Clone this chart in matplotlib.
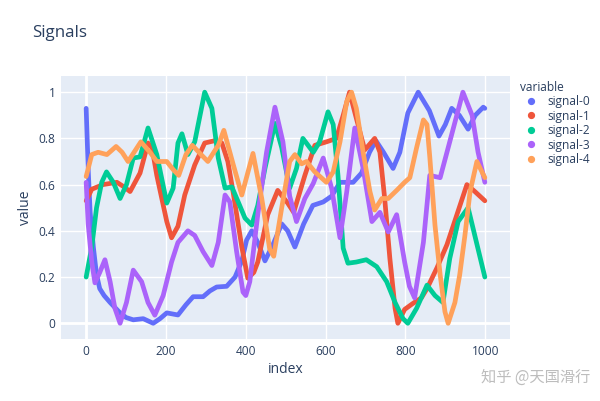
import matplotlib.pyplot as plt
from matplotlib.lines import Line2D

# values, (index, value) pairs per signal
signal_0_index = [0, 5, 10, 18, 26, 34, 45, 60, 85, 100, 118, 143, 168, 185, 202, 230, 250, 268, 293, 310,
                  327, 352, 373, 390, 402, 415, 430, 448, 468, 490, 505, 523, 545, 568, 594, 615, 636, 669,
                  690, 710, 726, 745, 769, 786, 806, 832, 860, 884, 900, 916, 935, 957, 975, 995, 999]
signal_0_value = [0.93, 0.67, 0.48, 0.33, 0.21, 0.15, 0.12, 0.09, 0.045, 0.025, 0.015, 0.02, 0.0, 0.02, 0.045,
                  0.036, 0.08, 0.115, 0.115, 0.14, 0.157, 0.16, 0.20, 0.27, 0.36, 0.40, 0.35, 0.27, 0.34, 0.43,
                  0.40, 0.33, 0.43, 0.51, 0.525, 0.55, 0.61, 0.61, 0.65, 0.74, 0.79, 0.74, 0.67, 0.74, 0.91,
                  1.0, 0.92, 0.81, 0.86, 0.93, 0.90, 0.84, 0.90, 0.935, 0.93]

signal_1_index = [0, 14, 42, 77, 95, 110, 135, 155, 165, 177, 202, 214, 230, 247, 272, 297, 322, 340, 355, 368,
                  390, 405, 420, 430, 455, 480, 505, 520, 548, 573, 602, 627, 644, 660, 675, 698, 723, 736,
                  748, 761, 774, 781, 798, 818, 840, 854, 879, 904, 929, 954, 974, 999]
signal_1_value = [0.53, 0.58, 0.60, 0.61, 0.59, 0.57, 0.65, 0.78, 0.76, 0.64, 0.44, 0.37, 0.42, 0.555, 0.685,
                  0.78, 0.79, 0.78, 0.70, 0.57, 0.33, 0.195, 0.22, 0.265, 0.47, 0.575, 0.52, 0.48, 0.64, 0.77,
                  0.785, 0.80, 0.90, 1.0, 0.90, 0.75, 0.80, 0.74, 0.54, 0.28, 0.065, 0.0, 0.06, 0.085, 0.11,
                  0.15, 0.24, 0.34, 0.47, 0.60, 0.57, 0.53]

signal_2_index = [0, 14, 26, 39, 51, 68, 85, 101, 118, 135, 155, 177, 202, 218, 230, 240, 255, 272, 297, 315,
                  331, 348, 365, 381, 398, 415, 430, 448, 473, 490, 510, 527, 543, 569, 585, 606, 619, 631,
                  644, 656, 677, 702, 728, 753, 774, 794, 806, 828, 854, 874, 894, 911, 932, 957, 978, 999]
signal_2_value = [0.2, 0.33, 0.5, 0.61, 0.655, 0.61, 0.54, 0.6, 0.715, 0.72, 0.845, 0.73, 0.52, 0.585, 0.78,
                  0.82, 0.73, 0.785, 1.0, 0.93, 0.715, 0.585, 0.59, 0.525, 0.455, 0.425, 0.51, 0.67, 0.865,
                  0.76, 0.585, 0.67, 0.80, 0.74, 0.785, 0.915, 0.86, 0.64, 0.325, 0.26, 0.265, 0.275, 0.245,
                  0.18, 0.09, 0.02, 0.0, 0.065, 0.165, 0.12, 0.09, 0.28, 0.44, 0.5, 0.35, 0.2]

signal_3_index = [0, 5, 14, 22, 34, 47, 60, 72, 85, 101, 118, 139, 155, 172, 193, 214, 230, 255, 272, 293,
                  315, 331, 348, 360, 377, 393, 400, 410, 430, 452, 473, 493, 510, 527, 548, 569, 594, 615,
                  636, 653, 673, 694, 716, 736, 757, 778, 798, 810, 823, 845, 861, 887, 911, 944, 967, 982, 999]
signal_3_value = [0.61, 0.43, 0.265, 0.175, 0.22, 0.275, 0.18, 0.065, 0.0, 0.09, 0.23, 0.18, 0.09, 0.035, 0.12,
                  0.265, 0.35, 0.40, 0.38, 0.31, 0.25, 0.35, 0.555, 0.525, 0.31, 0.135, 0.12, 0.18, 0.47,
                  0.74, 0.935, 0.785, 0.55, 0.44, 0.54, 0.605, 0.715, 0.585, 0.37, 0.57, 0.845, 0.67, 0.44,
                  0.48, 0.395, 0.47, 0.265, 0.16, 0.11, 0.35, 0.64, 0.63, 0.785, 1.0, 0.9, 0.74, 0.61]

signal_4_index = [0, 14, 30, 52, 75, 90, 105, 120, 137, 160, 177, 202, 218, 232, 250, 266, 288, 305, 331, 345,
                  368, 390, 418, 440, 460, 470, 490, 510, 523, 540, 552, 573, 602, 619, 636, 653, 665, 677,
                  694, 711, 723, 741, 757, 778, 798, 811, 828, 845, 854, 861, 874, 887, 899, 907, 924, 936,
                  949, 962, 979, 999]
signal_4_value = [0.635, 0.73, 0.74, 0.73, 0.765, 0.74, 0.70, 0.74, 0.785, 0.74, 0.70, 0.70, 0.665, 0.64, 0.73,
                  0.77, 0.73, 0.70, 0.77, 0.835, 0.69, 0.555, 0.735, 0.54, 0.32, 0.29, 0.5, 0.70, 0.73, 0.69,
                  0.70, 0.655, 0.61, 0.655, 0.785, 0.96, 1.0, 0.93, 0.74, 0.57, 0.49, 0.54, 0.54, 0.575, 0.61,
                  0.63, 0.76, 0.88, 0.86, 0.72, 0.425, 0.21, 0.05, 0.0, 0.09, 0.21, 0.38, 0.57, 0.70, 0.63]

SERIES = [
    ("signal-0", signal_0_index, signal_0_value),
    ("signal-1", signal_1_index, signal_1_value),
    ("signal-2", signal_2_index, signal_2_value),
    ("signal-3", signal_3_index, signal_3_value),
    ("signal-4", signal_4_index, signal_4_value),
]
COLORS = ["#636EFA", "#EF553B", "#00CC96", "#AB63FA", "#FFA15A"]
X_TICKS = [0, 200, 400, 600, 800, 1000]
Y_TICKS = [0, 0.2, 0.4, 0.6, 0.8, 1.0]
Y_TICK_LABELS = ["0", "0.2", "0.4", "0.6", "0.8", "1"]

TEXT_COLOR = "#2a3f5f"
plt.rcParams["font.family"] = ["Open Sans", "DejaVu Sans"]

fig = plt.figure(figsize=(6, 4.01), dpi=100)
ax = fig.add_axes([0.1017, 0.1546, 0.7483, 0.6559])
ax.set_facecolor("#E5ECF6")
for spine in ax.spines.values():
    spine.set_visible(False)

for (name, xs, ys), color in zip(SERIES, COLORS):
    ax.plot(xs, ys, color=color, linewidth=3.4, solid_capstyle="round",
            solid_joinstyle="round", label=name, zorder=3)

ax.set_xlim(-63, 1062)
ax.set_ylim(-0.068, 1.07)
ax.set_xticks(X_TICKS)
ax.set_yticks(Y_TICKS)
ax.set_yticklabels(Y_TICK_LABELS)
ax.grid(True, color="white", linewidth=1, zorder=1)
ax.axhline(0, color="white", linewidth=2, zorder=2)
ax.axvline(0, color="white", linewidth=2, zorder=2)
ax.tick_params(length=0, labelsize=8.6, labelcolor=TEXT_COLOR, pad=4)
ax.set_xlabel("index", fontsize=10, color=TEXT_COLOR, labelpad=3)
ax.set_ylabel("value", fontsize=10, color=TEXT_COLOR, labelpad=4)

fig.text(32 / 600, 1 - 33 / 401, "Signals", fontsize=12.2, color=TEXT_COLOR, va="center", ha="left")

handles = [Line2D([], [], linestyle="", marker="o", markersize=4.2, color=c) for c in COLORS]
labels = [name for name, _, _ in SERIES]
leg = fig.legend(handles, labels, title="variable", loc="upper left",
                 bbox_to_anchor=(515 / 600, 1 - 76 / 401), frameon=False,
                 fontsize=8.6, title_fontsize=8.6, handlelength=1.9, handletextpad=0.4,
                 labelspacing=0.12, alignment="left", borderaxespad=0)
for text in leg.get_texts():
    text.set_color(TEXT_COLOR)
leg.get_title().set_color(TEXT_COLOR)

fig.text(590 / 600, 1 - 377 / 401, "知乎 @天国滑行", fontsize=11, color="#bdbdbd", ha="right", va="center",
         family=["Noto Sans CJK SC", "DejaVu Sans"])

fig.savefig("out.png", dpi=100)
